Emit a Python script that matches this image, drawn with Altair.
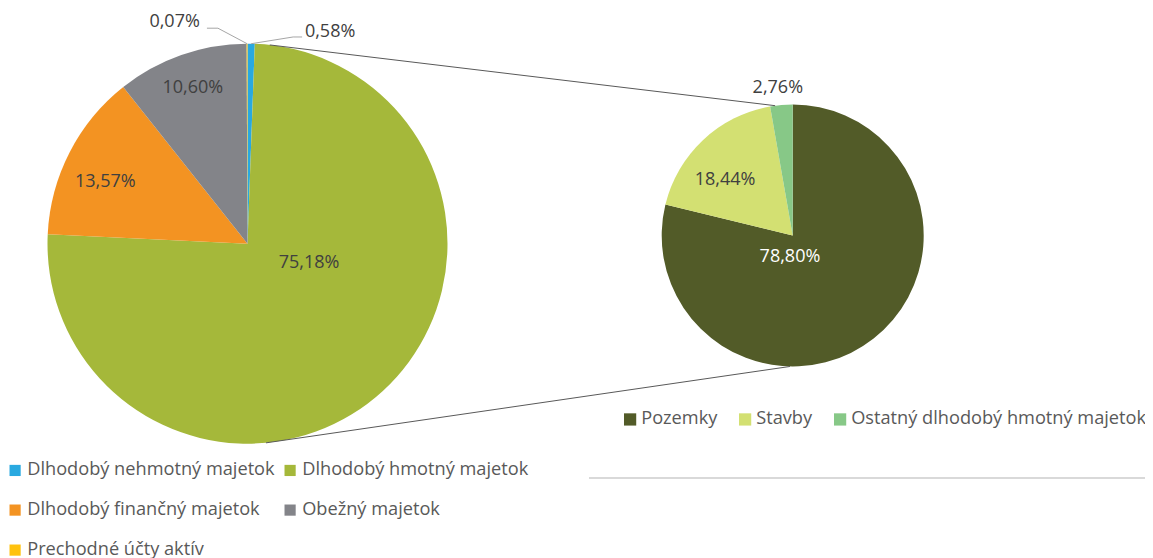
import altair as alt
import numpy as np
import pandas as pd

# ---------------- data ----------------
main_cats = ["Dlhodobý nehmotný majetok", "Dlhodobý hmotný majetok",
             "Dlhodobý finančný majetok", "Obežný majetok", "Prechodné účty aktív"]
main_vals = [0.58, 75.18, 13.57, 10.60, 0.07]
main_colors = ["#29A9E0", "#A5B83A", "#F39322", "#838489", "#FFC20E"]

sub_cats = ["Pozemky", "Stavby", "Ostatný dlhodobý hmotný majetok"]
sub_vals = [78.80, 18.44, 2.76]
sub_colors = ["#525B28", "#D3E072", "#87C887"]

# ---------------- layout (pixels of the plot area) ----------------
W, H = 1137, 550
L = dict(cx=239.5, cy=235.7, r=200)
R = dict(cx=784.7, cy=227.5, r=131)
# label placement: (radius, angle shift from slice middle in degrees)
main_label_place = [(227, 20.3), (64.5, -30), (155, -3.7), (165, 0), (233, -18.1)]
sub_label_place = [(21.4, 45.5), (87.5, -7.5), (148, -0.8)]
sub_label_colors = ["#FFFFFF", "#404040", "#404040"]
# leader lines for outside labels: index -> (elbow offset, end offset) from label centre
leaders = {0: ((-37, 4.7), (-28, 4.7)), 4: ((43.3, 5.8), (32.3, 5.8))}
# connector lines between pies: (left angle, right angle)
connectors = [(6.4, 352.3), (174.7, 181.2)]

FONT = "Open Sans"
LEG_FS = 18.2


def polar(p, r, deg):
    t = np.deg2rad(deg)
    return p["cx"] + r * np.sin(t), p["cy"] - r * np.cos(t)


def mids(vals):
    v = np.array(vals, dtype=float)
    start = np.cumsum(v) - v
    return (start + v / 2) / v.sum() * 360.0


def fmt(v):
    return f"{v:.2f}".replace(".", ",") + "%"


df_main = pd.DataFrame({"cat": main_cats, "value": main_vals, "idx": range(len(main_cats))})
df_sub = pd.DataFrame({"sub": sub_cats, "value": sub_vals, "idx": range(len(sub_cats))})

# labels
rows = []
for i, (v, m) in enumerate(zip(main_vals, mids(main_vals))):
    r, sh = main_label_place[i]
    x, y = polar(L, r, m + sh)
    rows.append(dict(x=x, y=y, text=fmt(v), col="#404040"))
for i, (v, m) in enumerate(zip(sub_vals, mids(sub_vals))):
    r, sh = sub_label_place[i]
    x, y = polar(R, r, m + sh)
    rows.append(dict(x=x, y=y, text=fmt(v), col=sub_label_colors[i]))
df_lab = pd.DataFrame(rows)

# leader lines
lrows = []
main_mid = mids(main_vals)
for i, (elb, end) in leaders.items():
    r, sh = main_label_place[i]
    lx, ly = polar(L, r, main_mid[i] + sh)
    ex, ey = polar(L, L["r"], main_mid[i])
    lrows.append(dict(k=i, o=0, x=ex, y=ey))
    lrows.append(dict(k=i, o=1, x=lx + elb[0], y=ly + elb[1]))
    lrows.append(dict(k=i, o=2, x=lx + end[0], y=ly + end[1]))
df_lead = pd.DataFrame(lrows)

# connectors
crows = []
for a1, a2 in connectors:
    x1, y1 = polar(L, L["r"], a1)
    x2, y2 = polar(R, R["r"], a2)
    crows.append(dict(x=x1, y=y1, x2=x2, y2=y2))
df_conn = pd.DataFrame(crows)

left_arc = alt.Chart(df_main).mark_arc(radius=L["r"]).encode(
    theta=alt.Theta("value:Q", stack=True),
    order=alt.Order("idx:Q"),
    color=alt.Color("cat:N", sort=main_cats,
                    scale=alt.Scale(domain=main_cats, range=main_colors),
                    legend=alt.Legend(title=None, orient="none", legendX=-2, legendY=453,
                                      direction="horizontal", columns=2,
                                      symbolType="square", symbolSize=125,
                                      symbolStrokeWidth=0, labelFont=FONT, labelFontSize=LEG_FS,
                                      labelColor="#595959", labelOffset=3, columnPadding=6,
                                      rowPadding=21, labelLimit=600)),
    x=alt.value(L["cx"]), y=alt.value(L["cy"]),
)

right_arc = alt.Chart(df_sub).mark_arc(radius=R["r"]).encode(
    theta=alt.Theta("value:Q", stack=True),
    order=alt.Order("idx:Q"),
    color=alt.Color("sub:N", sort=sub_cats,
                    scale=alt.Scale(domain=sub_cats, range=sub_colors),
                    legend=alt.Legend(title=None, orient="none", legendX=613, legendY=402,
                                      direction="horizontal", columns=3,
                                      symbolType="square", symbolSize=150,
                                      symbolStrokeWidth=0, labelFont=FONT, labelFontSize=LEG_FS,
                                      labelColor="#595959", labelOffset=2, columnPadding=18,
                                      labelLimit=600)),
    x=alt.value(R["cx"]), y=alt.value(R["cy"]),
)

conn = alt.Chart(df_conn).mark_rule(color="#595959", strokeWidth=1).encode(
    x=alt.X("x:Q", scale=None, axis=None), y=alt.Y("y:Q", scale=None, axis=None),
    x2="x2:Q", y2="y2:Q",
)

lead = alt.Chart(df_lead).mark_line(color="#A6A6A6", strokeWidth=1).encode(
    x=alt.X("x:Q", scale=None, axis=None), y=alt.Y("y:Q", scale=None, axis=None),
    detail="k:N", order="o:Q",
)

labels = alt.Chart(df_lab).mark_text(font=FONT, fontSize=18, align="center", baseline="middle").encode(
    x=alt.X("x:Q", scale=None, axis=None), y=alt.Y("y:Q", scale=None, axis=None),
    text="text:N", color=alt.Color("col:N", scale=None),
)

sep = alt.Chart(pd.DataFrame({"a": [0]})).mark_rule(color="#D9D9D9", strokeWidth=2).encode(
    x=alt.value(581), x2=alt.value(W), y=alt.value(470),
)

chart = alt.layer(left_arc, right_arc, conn, lead, labels, sep).resolve_scale(
    color="independent", theta="independent"
).resolve_legend(color="independent").properties(
    width=W, height=H, autosize=alt.AutoSizeParams(type="none"), padding=0
).configure_view(stroke=None)

chart.save("out.html", embed_options={"renderer": "svg", "actions": False})
